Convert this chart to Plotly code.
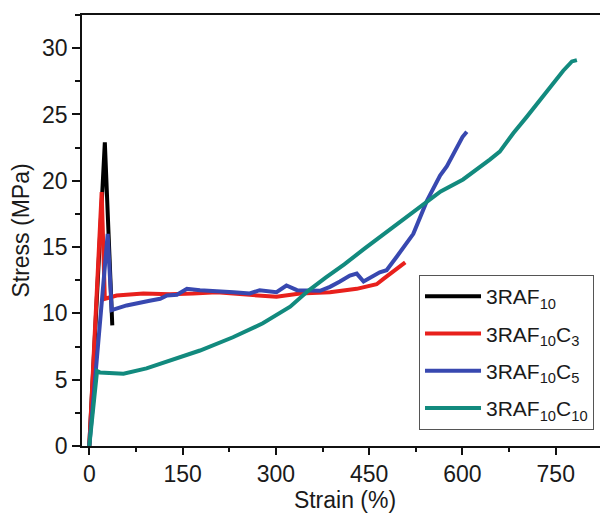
import plotly.graph_objects as go

# ---- data ----
black_x = [0, 25, 37]
black_y = [0, 22.9, 9.1]

red_x = [0, 19.9, 25, 44, 87, 130, 167, 205, 258, 301, 339, 387, 430, 446, 462, 473, 484, 494, 500, 508]
red_y = [0, 19.15, 11.1, 11.35, 11.5, 11.45, 11.5, 11.6, 11.4, 11.25, 11.5, 11.6, 11.85, 12.0, 12.2, 12.6, 13.0, 13.3, 13.5, 13.85]

blue_x = [0, 29.6, 36, 60, 97, 114, 125, 141, 157, 178, 232, 258, 274, 301, 317, 334, 371, 387, 403, 419, 430, 441,
          467, 478, 494, 521, 543, 564, 575, 591, 600, 607]
blue_y = [0, 16.0, 10.25, 10.6, 10.95, 11.1, 11.35, 11.4, 11.85, 11.75, 11.6, 11.5, 11.75, 11.6, 12.1, 11.75, 11.7,
          12.0, 12.4, 12.85, 13.0, 12.4, 13.1, 13.25, 14.25, 16.0, 18.5, 20.4, 21.1, 22.6, 23.3, 23.7]

teal_x = [0, 12.5, 17, 55, 92, 140, 178, 231, 279, 323, 352, 380, 410, 443, 480, 515, 546, 565, 601, 628, 644, 660,
          682, 703, 725, 746, 762, 776, 784]
teal_y = [0, 5.65, 5.55, 5.45, 5.85, 6.6, 7.2, 8.2, 9.25, 10.5, 11.7, 12.7, 13.7, 14.9, 16.2, 17.4, 18.5, 19.2, 20.1,
          21.0, 21.6, 22.2, 23.6, 24.8, 26.1, 27.45, 28.3, 29.0, 29.1]

names = ["3RAF<sub>10</sub>", "3RAF<sub>10</sub>C<sub>3</sub>", "3RAF<sub>10</sub>C<sub>5</sub>",
         "3RAF<sub>10</sub>C<sub>10</sub>"]
colors = ["#000000", "#e8201c", "#3848b0", "#128a7e"]

x_ticks = [0, 150, 300, 450, 600, 750]
y_ticks = [0, 5, 10, 15, 20, 25, 30]

FONT = "Arial, Liberation Sans, sans-serif"

fig = go.Figure()
series = [(black_x, black_y), (red_x, red_y), (blue_x, blue_y), (teal_x, teal_y)]
for i, ((xs, ys), nm, c) in enumerate(zip(series, names, colors)):
    fig.add_trace(go.Scatter(x=xs, y=ys, mode="lines", name=nm, legendgroup=str(i),
                             line=dict(color=c, width=4)))

# page body has an 8px default margin, so the figure is 8px smaller on each side
fig.update_layout(
    width=600, height=505, autosize=False,
    margin=dict(l=74, r=0, t=7, b=67, autoexpand=False),
    paper_bgcolor="white", plot_bgcolor="white",
    font=dict(family=FONT, size=23, color="#1a1a1a"),
    showlegend=True,
    legend=dict(x=0.6407, y=0.3968, xanchor="left", yanchor="top",
                bordercolor="#555555", borderwidth=1, bgcolor="white",
                font=dict(family=FONT, size=21, color="#1a1a1a"),
                tracegroupgap=7, itemwidth=56),
)
fig.update_xaxes(
    range=[-11.7, 834], tickvals=x_ticks, ticktext=[str(v) for v in x_ticks],
    automargin=False,
    showgrid=False, zeroline=False, showline=True, linecolor="#111", linewidth=1.5,
    mirror=True, ticks="outside", ticklen=7, tickwidth=1.5, tickcolor="#111",
    minor=dict(tickmode="linear", tick0=0, dtick=75, ticks="outside", ticklen=4, tickwidth=1.5, tickcolor="#111"),
    title=dict(text="Strain (%)", standoff=4, font=dict(size=23)),
)
fig.update_yaxes(
    range=[0, 32.5], tickvals=y_ticks, ticktext=[str(v) for v in y_ticks],
    automargin=False,
    showgrid=False, zeroline=False, showline=True, linecolor="#111", linewidth=1.5,
    mirror=False, ticks="outside", ticklen=8, tickwidth=1.5, tickcolor="#111",
    minor=dict(tickmode="linear", tick0=0, dtick=2.5, ticks="outside", ticklen=5, tickwidth=1.5, tickcolor="#111"),
    title=dict(text="Stress (MPa)", standoff=6, font=dict(size=23)),
)

fig.write_html("out.html")
